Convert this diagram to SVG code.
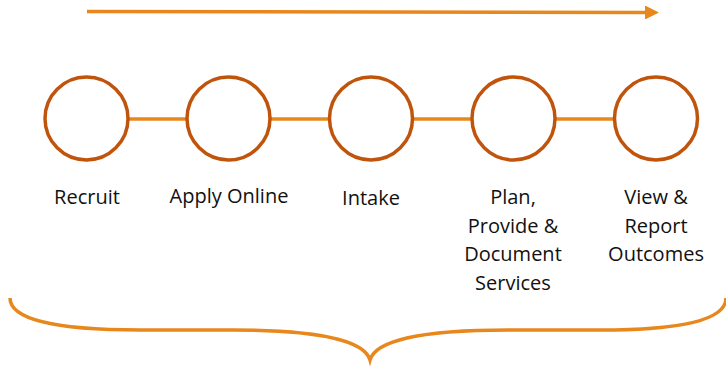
<svg xmlns="http://www.w3.org/2000/svg" width="726" height="368" viewBox="0 0 726 368">
<style>
.node circle{fill:#fff;stroke:#C0540C;stroke-width:3.5}
.conn line{stroke:#E8871C;stroke-width:3.5}
.lbl{font-family:"Open Sans","Liberation Sans",sans-serif;font-size:20px;fill:#111;text-anchor:middle}
</style>
<defs>
<marker id="ah" markerWidth="4" markerHeight="4" refX="0" refY="2" orient="auto" markerUnits="strokeWidth">
<path d="M0,0 L4,2 L0,4 Z" fill="#E8871C"/>
</marker>
</defs>
<g id="connectors" class="conn">
<line x1="87" y1="11.5" x2="645" y2="12.5" marker-end="url(#ah)"/>
<line x1="129" y1="119" x2="186" y2="119"/>
<line x1="271" y1="119" x2="329" y2="119"/>
<line x1="414" y1="119" x2="471" y2="119"/>
<line x1="556" y1="119" x2="614" y2="119"/>
</g>
<g id="n1" class="node"><circle cx="86.5" cy="118.5" r="41.5"/><text class="lbl" x="87" y="204">Recruit</text></g>
<g id="n2" class="node"><circle cx="228.5" cy="118.5" r="41.5"/><text class="lbl" x="229" y="203">Apply Online</text></g>
<g id="n3" class="node"><circle cx="371" cy="118.5" r="41.5"/><text class="lbl" x="371" y="205">Intake</text></g>
<g id="n4" class="node"><circle cx="513.5" cy="118.5" r="41.5"/><text class="lbl" x="513" y="204"><tspan x="513">Plan,</tspan><tspan x="513" dy="28.5">Provide &amp;</tspan><tspan x="513" dy="28.5">Document</tspan><tspan x="513" dy="28.5">Services</tspan></text></g>
<g id="n5" class="node"><circle cx="656" cy="118.5" r="41.5"/><text class="lbl" x="656" y="204"><tspan x="656">View &amp;</tspan><tspan x="656" dy="28.5">Report</tspan><tspan x="656" dy="28.5">Outcomes</tspan></text></g>
<g id="brace">
<path d="M10,298 C10,318 50,330 140,330 L232,330 C325,330 365,342 370,360 C375,342 415,330 508,330 L600,330 C690,330 726,318 726,298" fill="none" stroke="#E8871C" stroke-width="3.5"/>
</g>
</svg>
